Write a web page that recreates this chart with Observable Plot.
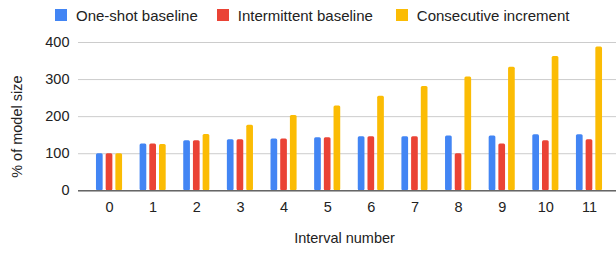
<!DOCTYPE html>
<html><head><meta charset="utf-8">
<script src="https://cdn.jsdelivr.net/npm/d3@7"></script>
<script src="https://cdn.jsdelivr.net/npm/@observablehq/plot@0.6"></script>
<style>
body{margin:0;background:#fff;font-family:"Liberation Sans",Arial,sans-serif;}
#legend{height:30px;display:flex;align-items:center;padding-left:55px;font-size:15px;color:#222;}
.item{display:flex;align-items:center;white-space:nowrap;}
.sw{width:12px;height:12px;margin-right:9px;}
</style></head><body>
<div id="legend"></div><div id="chart"></div>
<script>
const intervals = [0, 1, 2, 3, 4, 5, 6, 7, 8, 9, 10, 11];
const oneShot = [100, 126, 135, 137.5, 140, 143, 145.5, 145.5, 148, 148, 151, 151];
const intermittent = [100, 126, 135, 137.5, 140, 143, 145.5, 145.5, 100, 126, 135, 137.5];
const consecutive = [100, 125, 152, 177, 203, 229, 255, 281, 307, 333, 362, 388];
const seriesNames = ["One-shot baseline", "Intermittent baseline", "Consecutive increment"];
const seriesColors = ["#4285F4", "#EA4335", "#FBBC04"];
const yTicks = [0, 100, 200, 300, 400];

const seriesValues = [oneShot, intermittent, consecutive];
const legendGaps = [19, 23, 0];

const legend = document.getElementById("legend");
seriesNames.forEach((name, i) => {
  const it = document.createElement("div");
  it.className = "item";
  it.style.marginRight = legendGaps[i] + "px";
  const sw = document.createElement("div");
  sw.className = "sw";
  sw.style.background = seriesColors[i];
  const tx = document.createElement("span");
  tx.textContent = name;
  it.appendChild(sw); it.appendChild(tx);
  legend.appendChild(it);
});

const offsets = [-9.7, 0, 9.7];
const barMarks = seriesValues.map((vals, s) =>
  Plot.barY(intervals.map((k, i) => ({interval: String(k), value: vals[i]})), {
    x: "interval", y: "value", fill: seriesColors[s],
    dx: offsets[s], insetLeft: 18.47, insetRight: 18.47, rx: 1.5
  })
);

const chart = Plot.plot({
  width: 616, height: 224,
  marginLeft: 78, marginRight: 0, marginTop: 12, marginBottom: 63.7,
  style: {fontFamily: '"Liberation Sans", Arial, sans-serif', fontSize: "14.5px", color: "#222", background: "#fff"},
  x: {domain: intervals.map(String), range: [87.2, 610.8], padding: 0, round: false, label: null},
  y: {domain: [0, 400], label: null},
  marks: [
    Plot.gridY(yTicks, {stroke: "#ccc", strokeOpacity: 1}),
    Plot.axisY(yTicks, {tickSize: 0, tickPadding: 9, label: null}),
    Plot.axisX({tickSize: 0, tickPadding: 11, label: null}),
    ...barMarks,
    Plot.ruleY([0], {stroke: "#666", strokeWidth: 1.5}),
    Plot.text(["% of model size"], {text: d => d, frameAnchor: "left", textAnchor: "middle", lineAnchor: "middle", rotate: -90, dx: -61.6, dy: 10, fontSize: 14.5}),
    Plot.text(["Interval number"], {text: d => d, frameAnchor: "bottom", textAnchor: "middle", lineAnchor: "middle", dx: -3, dy: 48, fontSize: 14.5})
  ]
});
document.getElementById("chart").appendChild(chart);
</script>
</body></html>
